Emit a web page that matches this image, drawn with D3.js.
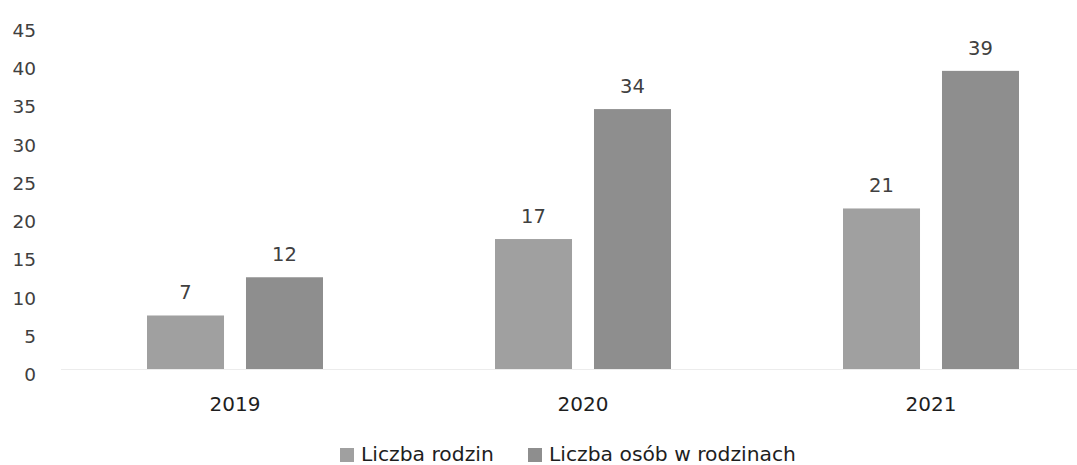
<!DOCTYPE html>
<html><head><meta charset="utf-8">
<script src="https://cdn.jsdelivr.net/npm/d3@7"></script>
<style>body{margin:0;background:#fff;} svg{display:block;}</style>
</head><body>
<script>
const categories = ["2019", "2020", "2021"];
const seriesNames = ["Liczba rodzin", "Liczba osób w rodzinach"];
const liczbaRodzin = [7, 17, 21];
const liczbaOsob = [12, 34, 39];
const yTicks = [0, 5, 10, 15, 20, 25, 30, 35, 40, 45];
const colors = ["#a0a0a0", "#8e8e8e"];

const W = 1077, H = 465;
const svg = d3.select("body").append("svg").attr("width", W).attr("height", H);
const font = "'DejaVu Sans', sans-serif";

const x0 = d3.scaleBand().domain(categories).range([61, 1105]).padding(0);
const inner = 176, off = (x0.bandwidth() - inner) / 2;
const x1 = d3.scaleBand().domain(seriesNames).range([off, off + inner]).paddingInner(0.222).paddingOuter(0);
const y = d3.scaleLinear().domain([0, 45]).range([369, 25]);

const values = [liczbaRodzin, liczbaOsob];

// baseline
svg.append("line").attr("x1", 61).attr("x2", W).attr("y1", y(0) + 0.5).attr("y2", y(0) + 0.5)
  .attr("stroke", "#ececec").attr("stroke-width", 1);

// y axis labels
const yAxis = d3.axisLeft(y).tickValues(yTicks).tickSize(0).tickPadding(0);
const gy = svg.append("g").attr("transform", "translate(36,0)").call(yAxis);
gy.select(".domain").remove();
gy.selectAll("text").attr("font-family", font).attr("font-size", 18.5).attr("fill", "#404040")
  .attr("dy", "0.62em");

// x axis labels
const xAxis = d3.axisBottom(x0).tickSize(0).tickPadding(0);
const gx = svg.append("g").attr("transform", `translate(0,${y(0)})`).call(xAxis);
gx.select(".domain").remove();
gx.selectAll("text").attr("font-family", font).attr("font-size", 20).attr("fill", "#1e1e1e")
  .attr("y", 0).attr("dy", 42);

// bars
seriesNames.forEach((s, si) => {
  const g = svg.append("g");
  g.selectAll("rect").data(categories).join("rect")
    .attr("x", d => x0(d) + x1(s))
    .attr("width", x1.bandwidth())
    .attr("y", (d, i) => y(values[si][i]))
    .attr("height", (d, i) => y(0) - y(values[si][i]))
    .attr("fill", colors[si]);
  g.selectAll("text").data(categories).join("text")
    .attr("x", d => x0(d) + x1(s) + x1.bandwidth() / 2)
    .attr("y", (d, i) => y(values[si][i]) - 16)
    .attr("text-anchor", "middle")
    .attr("font-family", font).attr("font-size", 19.5).attr("fill", "#404040")
    .text((d, i) => values[si][i]);
});

// legend
const legendX = [340, 528];
seriesNames.forEach((s, si) => {
  const g = svg.append("g").attr("transform", `translate(${legendX[si]},0)`);
  g.append("rect").attr("x", 0).attr("y", 448).attr("width", 14).attr("height", 14).attr("fill", colors[si]);
  g.append("text").attr("x", 21).attr("y", 461).attr("font-family", font).attr("font-size", 20.3)
    .attr("fill", "#1e1e1e").text(s);
});
</script>
</body></html>
